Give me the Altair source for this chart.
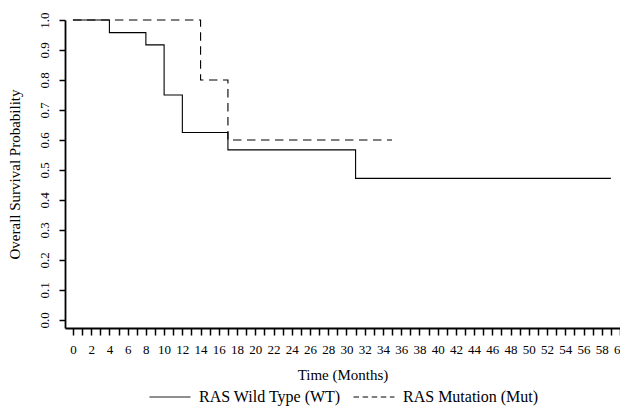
import altair as alt
import pandas as pd

wt_label = "RAS Wild Type (WT)"
mut_label = "RAS Mutation (Mut)"

wt_time = [0, 4, 8, 10, 12, 17, 31, 59]
wt_surv = [1.0, 0.958, 0.917, 0.75, 0.625, 0.567, 0.472, 0.472]

mut_time = [0, 14, 17, 35]
mut_surv = [1.0, 0.8, 0.6, 0.6]

x_ticks = list(range(0, 61))
y_ticks = [0.0, 0.1, 0.2, 0.3, 0.4, 0.5, 0.6, 0.7, 0.8, 0.9, 1.0]

df = pd.DataFrame(
    {
        "time": wt_time + mut_time,
        "surv": wt_surv + mut_surv,
        "group": [wt_label] * len(wt_time) + [mut_label] * len(mut_time),
    }
)

FONT = "Liberation Serif"

x_enc = alt.X(
    "time:Q",
    scale=alt.Scale(domain=[-0.87, 60], nice=False, zero=False),
    axis=alt.Axis(
        values=x_ticks,
        title="Time (Months)",
        labelExpr="datum.value % 2 === 0 ? datum.label : ''",
        labelOverlap=False,
        labelFlush=False,
        tickSize=7,
        tickWidth=1.5,
        tickColor="black",
        domainColor="black",
        domainWidth=1.8,
        labelPadding=8,
        labelFontSize=13,
        titleFontSize=15,
        titleY=51,
        titleBaseline="alphabetic",
        grid=False,
    ),
)
y_enc = alt.Y(
    "surv:Q",
    scale=alt.Scale(domain=[-0.027, 1.0], nice=False, zero=False),
    axis=alt.Axis(
        values=y_ticks,
        format=".1f",
        title="Overall Survival Probability",
        labelAngle=-90,
        labelAlign="center",
        labelBaseline="alphabetic",
        labelPadding=11,
        tickSize=6,
        tickWidth=1.5,
        tickColor="black",
        domainColor="black",
        domainWidth=1.8,
        labelFontSize=13,
        titleFontSize=15,
        titleAngle=-90,
        titleX=-46,
        titleY=154,
        titleAlign="center",
        titleBaseline="alphabetic",
        grid=False,
    ),
)

base = alt.Chart(df)

wt_line = base.transform_filter(alt.datum.group == wt_label).mark_line(
    interpolate="step-after", color="black", strokeWidth=1.1
).encode(x=x_enc, y=y_enc)

mut_line = base.transform_filter(alt.datum.group == mut_label).mark_line(
    interpolate="step-after", color="black", strokeWidth=1.1, strokeDash=[8.5, 5.5]
).encode(x=x_enc, y=y_enc)

legend_layer = base.transform_filter(alt.datum.time == 0).mark_line(
    color="black", strokeWidth=1
).encode(
    x=x_enc,
    y=y_enc,
    strokeDash=alt.StrokeDash(
        "group:N",
        scale=alt.Scale(domain=[wt_label, mut_label], range=[[1, 0], [5.5, 3.6]]),
        sort=[wt_label, mut_label],
        legend=alt.Legend(
            title=None,
            orient="none",
            direction="horizontal",
            columns=2,
            legendX=84,
            legendY=356,
            symbolType="stroke",
            symbolSize=1680,
            symbolStrokeColor="black",
            symbolStrokeWidth=1,
            labelFontSize=16,
            labelFont=FONT,
            labelColor="black",
            labelOffset=8,
            columnPadding=10,
        ),
    ),
)

chart = (
    alt.layer(wt_line, mut_line, legend_layer)
    .properties(
        width=555,
        height=308,
        autosize=alt.AutoSizeParams(type="none"),
        padding={"left": 57, "top": 12, "right": 0, "bottom": 79},
    )
    .configure(background="white", font=FONT)
    .configure_view(stroke=None)
    .configure_axis(
        labelFont=FONT,
        titleFont=FONT,
        labelColor="black",
        titleColor="black",
        titleFontWeight="normal",
    )
    .configure_legend(labelFont=FONT, labelFontSize=16, labelColor="black")
)

chart.save("out.html", embed_options={"renderer": "svg", "actions": False})
